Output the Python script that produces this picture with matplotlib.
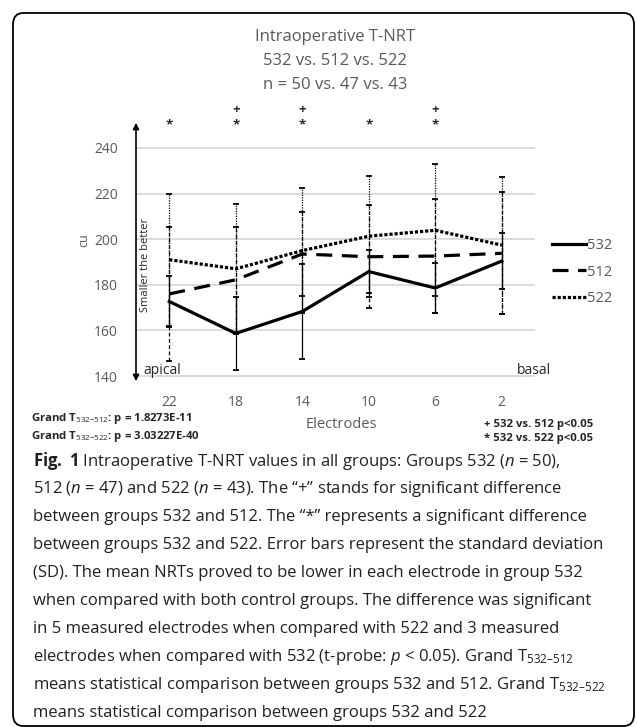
import matplotlib.pyplot as plt
from matplotlib.patches import FancyBboxPatch, FancyArrowPatch
from matplotlib.lines import Line2D
import matplotlib.transforms as mtransforms
import numpy as np

plt.rcParams['font.family'] = ['Open Sans', 'DejaVu Sans']
plt.rcParams['mathtext.fontset'] = 'custom'
plt.rcParams['mathtext.rm'] = 'Open Sans'
plt.rcParams['mathtext.it'] = 'Open Sans:italic'
plt.rcParams['mathtext.bf'] = 'Open Sans:bold'

# data
electrodes = ["22", "18", "14", "10", "6", "2"]
mean_532 = [172.7, 158.7, 168.3, 185.8, 178.6, 190.4]
sd_532 = [11.2, 16.0, 21.0, 9.4, 11.1, 12.3]
mean_512 = [176.0, 182.2, 193.5, 192.3, 192.6, 193.8]
sd_512 = [29.5, 23.0, 18.4, 22.5, 25.1, 26.8]
mean_522 = [191.0, 187.0, 195.0, 201.3, 203.9, 197.4]
sd_522 = [29.0, 28.5, 27.3, 26.5, 29.0, 30.0]
sig_512 = ["", "+", "+", "", "+", ""]
sig_522 = ["*", "*", "*", "*", "*", ""]
yticks = [140, 160, 180, 200, 220, 240]

title_lines = ["Intraoperative T-NRT", "532 vs. 512 vs. 522", "n = 50 vs. 47 vs. 43"]
caption = [
    r"$\mathbf{Fig.\ 1}$ Intraoperative T-NRT values in all groups: Groups 532 ($\mathit{n}$ = 50),",
    r"512 ($\mathit{n}$ = 47) and 522 ($\mathit{n}$ = 43). The “+” stands for significant difference",
    "between groups 532 and 512. The “*” represents a significant difference",
    "between groups 532 and 522. Error bars represent the standard deviation",
    "(SD). The mean NRTs proved to be lower in each electrode in group 532",
    "when compared with both control groups. The difference was significant",
    "in 5 measured electrodes when compared with 522 and 3 measured",
    r"electrodes when compared with 532 (t-probe: $\mathit{p}$ < 0.05). Grand T$_{532–512}$",
    r"means statistical comparison between groups 532 and 512. Grand T$_{532–522}$",
    "means statistical comparison between groups 532 and 522",
]

W, H = 637, 727
fig = plt.figure(figsize=(W / 100, H / 100), dpi=100)


def fx(x):
    return x / W


def fy(y):
    return 1 - y / H


# outer rounded frame
frame = FancyBboxPatch((fx(13), fy(726)), fx(634) - fx(13), fy(13) - fy(726),
                       boxstyle="round,pad=0,rounding_size=0.016",
                       transform=fig.transFigure, fill=False, ec='black', lw=1.3)
fig.patches.append(frame)

ax = fig.add_axes([fx(136), fy(377), fx(535) - fx(136), fy(147) - fy(377)])
x = np.arange(len(electrodes))

gray = '#595959'
series = [
    ("532", mean_532, sd_532, '-', '-'),
    ("512", mean_512, sd_512, (0, (5, 3)), (0, (3, 2))),
    ("522", mean_522, sd_522, (0, (1, 0.6)), (0, (1, 1))),
]
handles = []
for name, m, s, ls, els in series:
    eb = ax.errorbar(x, m, yerr=s, color='black', lw=2.3, ls=ls,
                     elinewidth=0.9, capsize=2.5, capthick=1.3,
                     dash_capstyle='butt')
    eb[2][0].set_linestyle(els)
    handles.append(Line2D([], [], color='black', lw=2.3, ls=ls, label=name))

ax.set_xlim(-0.5, len(electrodes) - 0.5)
ax.set_ylim(139.6, 240.4)
ax.set_yticks(yticks)
ax.set_xticks(x)
ax.set_xticklabels(electrodes)
ax.grid(axis='y', color='#d9d9d9', lw=1.3)
ax.set_axisbelow(True)
for sp in ax.spines.values():
    sp.set_visible(False)
ax.tick_params(length=0, labelsize=10, labelcolor=gray)
ax.tick_params(axis='y', pad=13)
ax.tick_params(axis='x', pad=13)

leg = ax.legend(handles=handles, loc='center left', bbox_to_anchor=(fx(552), fy(272)),
                bbox_transform=fig.transFigure, frameon=False, fontsize=10.5,
                handlelength=2.3, handletextpad=0.1, labelspacing=0.8,
                borderpad=0, borderaxespad=0)
for t in leg.get_texts():
    t.set_color(gray)

# significance markers above each electrode
blend = mtransforms.blended_transform_factory(ax.transData, fig.transFigure)
for i in range(len(electrodes)):
    ax.text(x[i], fy(109), sig_512[i], transform=blend, ha='center', va='center',
            fontsize=9.5, fontweight='bold', color='#262626')
    ax.text(x[i], fy(125), sig_522[i], transform=blend, ha='center', va='center',
            fontsize=9.5, fontweight='bold', color='#262626')

# double arrow as y axis
arrow = FancyArrowPatch((fx(136), fy(384)), (fx(136), fy(120)), transform=fig.transFigure,
                        arrowstyle='<|-|>', mutation_scale=9, lw=1.2, color='black')
fig.patches.append(arrow)

# titles
for i, t in enumerate(title_lines):
    fig.text(fx(335), fy(37 + 24 * i), t, ha='center', va='center', fontsize=12, color=gray)

fig.text(fx(84), fy(240), "cu", rotation=90, ha='center', va='center', fontsize=9, color=gray)
fig.text(fx(146), fy(265), "Smaller the better", rotation=90, ha='center', va='center',
         fontsize=8, color='#262626')
fig.text(fx(143), fy(371), "apical", ha='left', va='center', fontsize=10, color='#262626')
fig.text(fx(551), fy(371), "basal", ha='right', va='center', fontsize=10, color='#262626')
fig.text(fx(341), fy(425), "Electrodes", ha='center', va='center', fontsize=10.5, color=gray)

small = dict(ha='left', va='center', fontsize=8.2, fontweight='bold', color='#262626')
fig.text(fx(31), fy(419), r"Grand T$_{532\mathrm{-}512}$: p = 1.8273E-11", **small)
fig.text(fx(31), fy(436), r"Grand T$_{532\mathrm{-}522}$: p = 3.03227E-40", **small)
fig.text(fx(484), fy(424), "+ 532 vs. 512 p<0.05", **small)
fig.text(fx(484), fy(438), "* 532 vs. 522 p<0.05", **small)

# caption
for i, line in enumerate(caption):
    fig.text(fx(33), fy(461 + 28 * i), line, ha='left', va='center', fontsize=12,
             color='#231f20')

fig.savefig("out.png", dpi=100)
